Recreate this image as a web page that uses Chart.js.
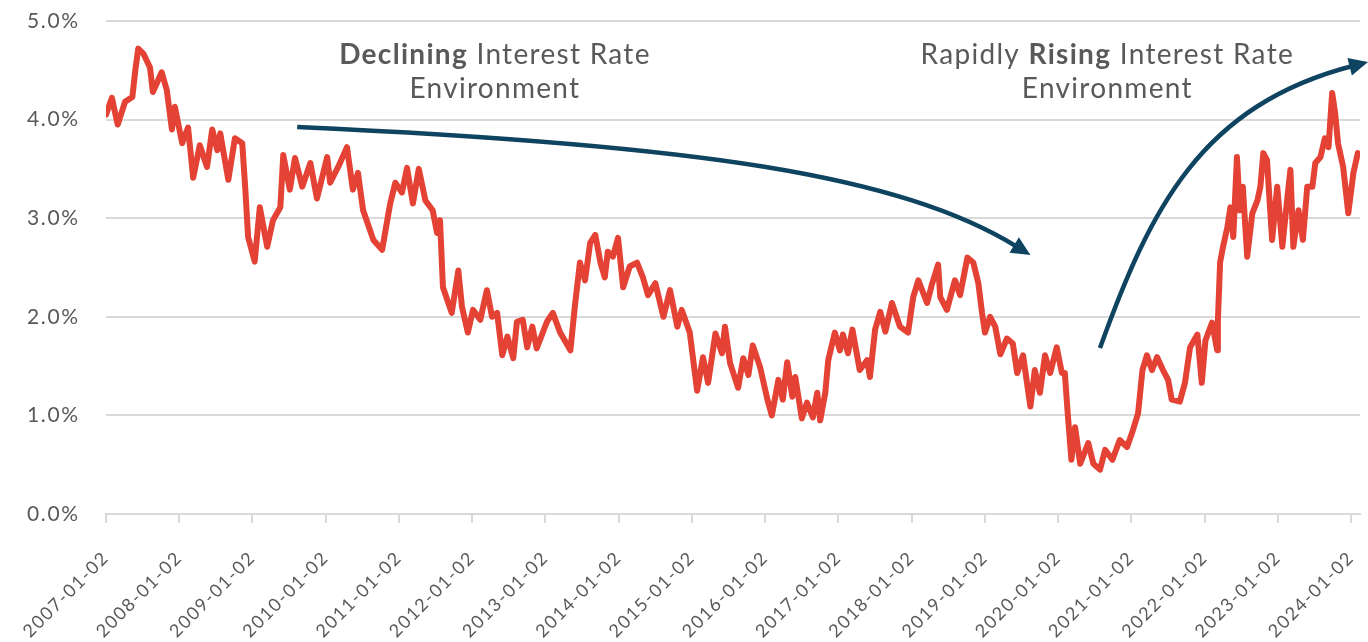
<!DOCTYPE html>
<html><head><meta charset="utf-8">
<script src="https://cdn.jsdelivr.net/npm/chart.js@4.4.1/dist/chart.umd.min.js"></script>
<style>html,body{margin:0;padding:0;background:#fff}#wrap{width:1368px;height:642px;position:relative}</style>
</head><body><div id="wrap"><canvas id="c"></canvas></div>
<script>
// Decimal year of each observation
const years = [
2007.00,2007.08,2007.16,2007.26,2007.36,2007.40,2007.44,2007.51,2007.60,2007.64,2007.76,2007.83,2007.90,2007.94,
2008.04,2008.12,2008.19,2008.28,2008.38,2008.45,2008.52,2008.56,2008.67,2008.76,2008.86,2008.90,2008.94,
2009.03,2009.10,2009.20,2009.28,2009.38,2009.42,2009.51,2009.58,2009.68,2009.79,2009.88,
2010.02,2010.06,2010.17,2010.29,2010.37,2010.44,2010.51,2010.65,2010.77,2010.88,2010.95,
2011.04,2011.11,2011.19,2011.27,2011.36,2011.46,2011.52,2011.56,2011.60,2011.72,2011.81,2011.86,2011.94,
2012.01,2012.11,2012.20,2012.27,2012.34,2012.41,2012.48,2012.56,2012.61,2012.69,2012.75,2012.82,2012.88,
2013.02,2013.10,2013.20,2013.34,2013.40,2013.47,2013.54,2013.61,2013.68,2013.75,2013.81,2013.85,2013.92,2013.99,
2014.06,2014.15,2014.25,2014.33,2014.40,2014.50,2014.61,2014.70,2014.80,2014.86,2014.97,
2015.07,2015.15,2015.22,2015.32,2015.41,2015.45,2015.52,2015.63,2015.70,2015.77,2015.83,2015.93,
2016.03,2016.09,2016.18,2016.24,2016.30,2016.37,2016.41,2016.50,2016.57,2016.65,2016.71,2016.75,2016.82,2016.86,2016.95,
2017.02,2017.06,2017.13,2017.19,2017.29,2017.39,2017.43,2017.50,2017.57,2017.64,2017.73,2017.84,2017.95,
2018.02,2018.09,2018.21,2018.28,2018.36,2018.39,2018.48,2018.59,2018.66,2018.76,2018.84,2018.91,2018.96,
2019.00,2019.07,2019.14,2019.21,2019.30,2019.38,2019.44,2019.52,2019.62,2019.68,2019.75,2019.82,2019.89,2019.98,
2020.05,2020.09,2020.13,2020.18,2020.23,2020.30,2020.41,2020.48,2020.57,2020.64,2020.74,2020.84,2020.94,
2021.02,2021.09,2021.15,2021.21,2021.28,2021.35,2021.43,2021.50,2021.55,2021.66,2021.73,2021.80,2021.90,2021.96,
2022.01,2022.05,2022.10,2022.17,2022.18,2022.21,2022.25,2022.31,2022.35,2022.39,2022.44,2022.48,2022.52,2022.58,2022.65,2022.72,2022.76,2022.80,2022.85,2022.92,2022.99,
2023.06,2023.13,2023.17,2023.21,2023.28,2023.34,2023.40,2023.47,2023.51,2023.58,2023.64,2023.69,2023.74,2023.78,2023.82,2023.89,2023.96,
2024.03,2024.09
];
// Yield (%) at each observation
const yields = [
4.05,4.22,3.95,4.18,4.23,4.50,4.72,4.67,4.53,4.28,4.48,4.30,3.90,4.13,
3.76,3.92,3.41,3.74,3.52,3.90,3.69,3.86,3.39,3.81,3.76,3.32,2.81,
2.56,3.11,2.71,2.98,3.11,3.64,3.29,3.61,3.32,3.56,3.20,
3.62,3.36,3.52,3.72,3.29,3.46,3.08,2.78,2.68,3.15,3.36,
3.26,3.51,3.15,3.50,3.18,3.08,2.85,2.98,2.30,2.04,2.47,2.10,1.84,
2.07,1.97,2.27,2.00,2.04,1.61,1.80,1.58,1.95,1.97,1.69,1.90,1.68,
1.95,2.04,1.84,1.66,2.10,2.55,2.37,2.75,2.83,2.55,2.40,2.66,2.61,2.80,
2.30,2.51,2.55,2.40,2.22,2.34,2.00,2.27,1.90,2.07,1.84,
1.25,1.59,1.33,1.83,1.63,1.90,1.53,1.28,1.58,1.41,1.71,1.49,
1.16,1.00,1.36,1.16,1.54,1.19,1.39,0.97,1.13,0.98,1.23,0.95,1.23,1.56,1.84,
1.66,1.82,1.63,1.87,1.46,1.56,1.39,1.87,2.05,1.85,2.14,1.90,1.84,
2.20,2.37,2.14,2.34,2.53,2.20,2.07,2.37,2.22,2.60,2.55,2.34,2.04,
1.84,2.00,1.90,1.62,1.78,1.73,1.43,1.61,1.09,1.46,1.23,1.61,1.43,1.69,
1.43,1.43,1.02,0.55,0.88,0.51,0.72,0.51,0.45,0.65,0.55,0.75,0.68,
0.85,1.02,1.46,1.61,1.46,1.59,1.46,1.36,1.16,1.14,1.33,1.69,1.82,1.33,
1.76,1.84,1.94,1.66,1.97,2.55,2.71,2.91,3.11,2.81,3.62,3.08,3.32,2.61,3.05,3.18,3.32,3.66,3.59,2.78,3.32,
2.71,3.22,3.49,2.71,3.08,2.78,3.32,3.32,3.56,3.62,3.81,3.72,4.27,4.07,3.76,3.52,3.05,
3.46,3.66
];
const xTickYears = [2007,2008,2009,2010,2011,2012,2013,2014,2015,2016,2017,2018,2019,2020,2021,2022,2023,2024];
const yTickValues = [0,1,2,3,4,5];

// Annotation texts (centre x in years, line centres in % units)
const labelDecline = {pre:'', bold:'Declining', rest:' Interest Rate', line2:'Environment', x:2012.31};
const labelRise = {pre:'Rapidly ', bold:'Rising', rest:' Interest Rate', line2:'Environment', x:2020.67};
const labelLineY = [4.655, 4.31];
// Arrow bezier control points in data units [year, %]
const arrowDecline = [[2009.61,3.925],[2015.11,3.742],[2017.84,3.438],[2019.62,2.627]];
const arrowRise = [[2020.57,1.684],[2021.25,3.083],[2021.94,4.148],[2024.23,4.584]];

const FONT = 'Lato, "Open Sans", sans-serif';
const GREY = '#595959';
const NAVY = '#0f4461';
const RED = '#e34234';

const spacingPlugin = {
  id: 'spacing',
  beforeDraw(chart) { chart.ctx.letterSpacing = '1.6px'; }
};

const annotationPlugin = {
  id: 'annot',
  afterDraw(chart) {
    const ctx = chart.ctx, xs = chart.scales.x, ys = chart.scales.y;
    const P = p => [xs.getPixelForValue(p[0]), ys.getPixelForValue(p[1])];
    // texts
    [labelDecline, labelRise].forEach(l => {
      ctx.save();
      ctx.letterSpacing = '1.3px';
      ctx.fillStyle = GREY;
      ctx.textBaseline = 'middle';
      const cx = xs.getPixelForValue(l.x);
      const reg = '28px ' + FONT, bld = 'bold 28px ' + FONT;
      ctx.font = reg; const w1 = ctx.measureText(l.pre).width; const w3 = ctx.measureText(l.rest).width;
      ctx.font = bld; const w2 = ctx.measureText(l.bold).width;
      let x = cx - (w1 + w2 + w3) / 2;
      const y1 = ys.getPixelForValue(labelLineY[0]);
      ctx.textAlign = 'left';
      ctx.font = reg; ctx.fillText(l.pre, x, y1); x += w1;
      ctx.font = bld; ctx.fillText(l.bold, x, y1); x += w2;
      ctx.font = reg; ctx.fillText(l.rest, x, y1);
      const w4 = ctx.measureText(l.line2).width;
      ctx.fillText(l.line2, cx - w4 / 2, ys.getPixelForValue(labelLineY[1]));
      ctx.restore();
    });
    // arrows
    [arrowDecline, arrowRise].forEach(a => {
      const [p0, p1, p2, p3] = a.map(P);
      const ang = Math.atan2(p3[1] - p2[1], p3[0] - p2[0]);
      const headL = 19, headW = 9;
      const end = [p3[0] - Math.cos(ang) * (headL - 4), p3[1] - Math.sin(ang) * (headL - 4)];
      ctx.save();
      ctx.strokeStyle = NAVY; ctx.fillStyle = NAVY; ctx.lineWidth = 4.5; ctx.lineCap = 'butt';
      ctx.beginPath();
      ctx.moveTo(p0[0], p0[1]);
      ctx.bezierCurveTo(p1[0], p1[1], p2[0], p2[1], end[0], end[1]);
      ctx.stroke();
      ctx.beginPath();
      ctx.moveTo(p3[0], p3[1]);
      const bx = p3[0] - Math.cos(ang) * headL, by = p3[1] - Math.sin(ang) * headL;
      ctx.lineTo(bx + Math.sin(ang) * headW, by - Math.cos(ang) * headW);
      ctx.lineTo(bx - Math.sin(ang) * headW, by + Math.cos(ang) * headW);
      ctx.closePath();
      ctx.fill();
      ctx.restore();
    });
  }
};

new Chart(document.getElementById('c'), {
  type: 'line',
  data: {
    datasets: [{
      data: years.map((x, i) => ({x, y: yields[i]})),
      borderColor: RED,
      borderWidth: 6,
      borderJoinStyle: 'round',
      borderCapStyle: 'round',
      pointRadius: 0,
      tension: 0,
      fill: false
    }]
  },
  options: {
    responsive: true,
    maintainAspectRatio: false,
    animation: false,
    layout: {padding: {top: 0, right: 8, left: 0, bottom: 0}},
    plugins: {legend: {display: false}, tooltip: {enabled: false}},
    scales: {
      x: {
        type: 'linear',
        min: 2007,
        max: 2024.12,
        afterBuildTicks: s => { s.ticks = xTickYears.map(v => ({value: v})); },
        afterFit: s => { s.height = 128; s.paddingRight = 0; s.paddingLeft = 0; },
        grid: {drawOnChartArea: false, drawTicks: true, tickLength: 9, color: '#d9d9d9', lineWidth: 2},
        border: {display: true, color: '#d9d9d9', width: 2},
        ticks: {
          autoSkip: false, minRotation: 45, maxRotation: 45, padding: 24,
          color: GREY, font: {family: FONT, size: 18},
          callback: v => v + '-01-02'
        }
      },
      y: {
        min: 0, max: 5,
        afterBuildTicks: s => { s.ticks = yTickValues.map(v => ({value: v})); },
        afterFit: s => { s.width = 106; s.paddingTop = 21; },
        grid: {color: '#d9d9d9', lineWidth: 2, drawTicks: false},
        border: {display: false},
        ticks: {
          padding: 26.4, color: GREY, font: {family: FONT, size: 21},
          callback: v => v.toFixed(1) + '%'
        }
      }
    }
  },
  plugins: [spacingPlugin, annotationPlugin]
});
</script>
</body></html>
